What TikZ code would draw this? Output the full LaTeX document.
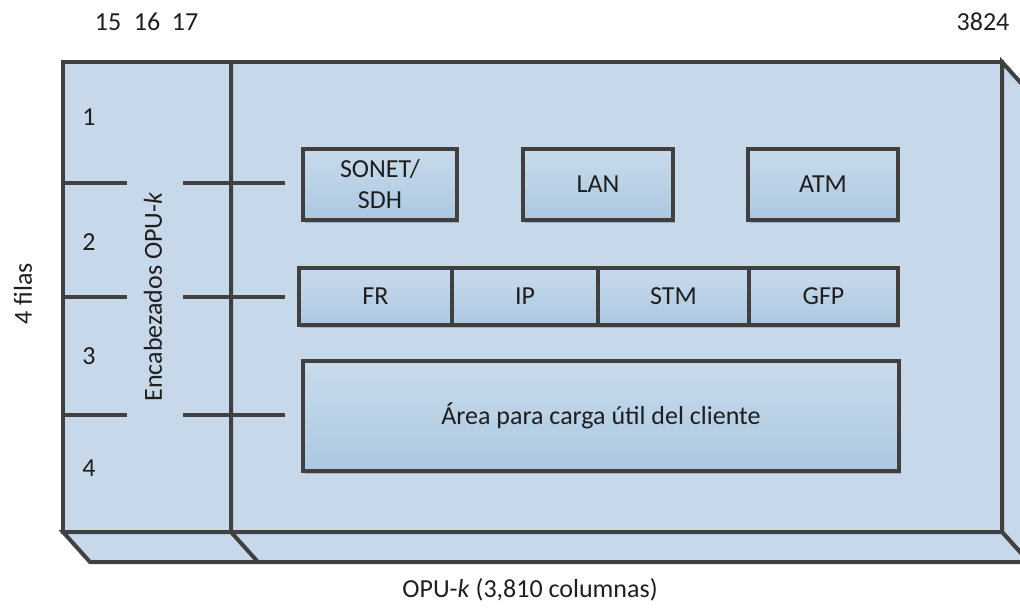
\documentclass[tikz,border=0pt]{standalone}
\usepackage{fontspec}
\setmainfont{Carlito}
\usetikzlibrary{shadows}

\definecolor{opufill}{RGB}{198,216,233}
\definecolor{boxtop}{RGB}{201,219,236}
\definecolor{boxbottom}{RGB}{171,200,225}
\definecolor{edgegray}{RGB}{64,64,64}

\begin{document}
\begin{tikzpicture}[x=1pt,y=-1pt,
  every node/.style={font=\fontsize{26}{31}\selectfont, text=black!88},
  frame/.style={draw=edgegray, line width=4pt, fill=opufill},
  edge/.style={draw=edgegray, line width=4pt},
  client/.style={draw=edgegray, line width=4pt, top color=boxtop, bottom color=boxbottom,
    inner sep=0pt, align=center,
    drop shadow={shadow xshift=2pt, shadow yshift=-3pt, opacity=.18, fill=black}},
  ]
  \useasboundingbox (0,0) rectangle (1020,608);
  \clip (0,0) rectangle (1020,608);

  % Body of the OPU-k frame (front, bottom and right faces)
  \draw[frame] (1002,62) -- (1029,92) -- (1029,562) -- (1002,532) -- cycle;
  \draw[frame] (63,532) -- (90,562) -- (1029,562) -- (1002,532) -- cycle;
  \draw[frame] (63,62) rectangle (1002,532);

  % Header columns
  \draw[edge] (231,62) -- (231,532) -- (258,562);

  % Row separators
  \foreach \y in {183,297,415}
    {
      \draw[edge] (63,\y) -- (127,\y);
      \draw[edge] (183,\y) -- (285,\y);
    }

  % Row numbers
  \foreach \y/\n in {117/1,242/2,356/3,468/4}
    \node (row\n) at (89,\y) {\n};

  % Column numbers
  \node (col15) at (108,22) {15};
  \node (col16) at (147,22) {16};
  \node (col17) at (185,22) {17};
  \node (col3824) at (983,22) {3824};

  % Client signals
  \node[client, minimum width=154pt, minimum height=71pt] (sonet) at (380,184) {SONET/\\SDH};
  \node[client, minimum width=150pt, minimum height=71pt] (lan) at (598,184) {LAN};
  \node[client, minimum width=150pt, minimum height=71pt] (atm) at (823,184) {ATM};

  % Mapping row
  \node[client, minimum width=153pt, minimum height=57pt] (fr) at (375.5,296.5) {FR};
  \node[client, minimum width=146pt, minimum height=57pt] (ip) at (525,296.5) {IP};
  \node[client, minimum width=151pt, minimum height=57pt] (stm) at (673.5,296.5) {STM};
  \node[client, minimum width=149pt, minimum height=57pt] (gfp) at (823.5,296.5) {GFP};

  % Payload area
  \node[client, minimum width=596pt, minimum height=110pt] (payload) at (601,416)
    {Área para carga útil del cliente};

  % Labels
  \node[rotate=90] (header) at (153,297) {Encabezados OPU-\textit{k}};
  \node[rotate=90] (rows) at (23,294) {4 filas};
  \node (columns) at (530,590) {OPU-\textit{k} (3,810 columnas)};
\end{tikzpicture}
\end{document}
